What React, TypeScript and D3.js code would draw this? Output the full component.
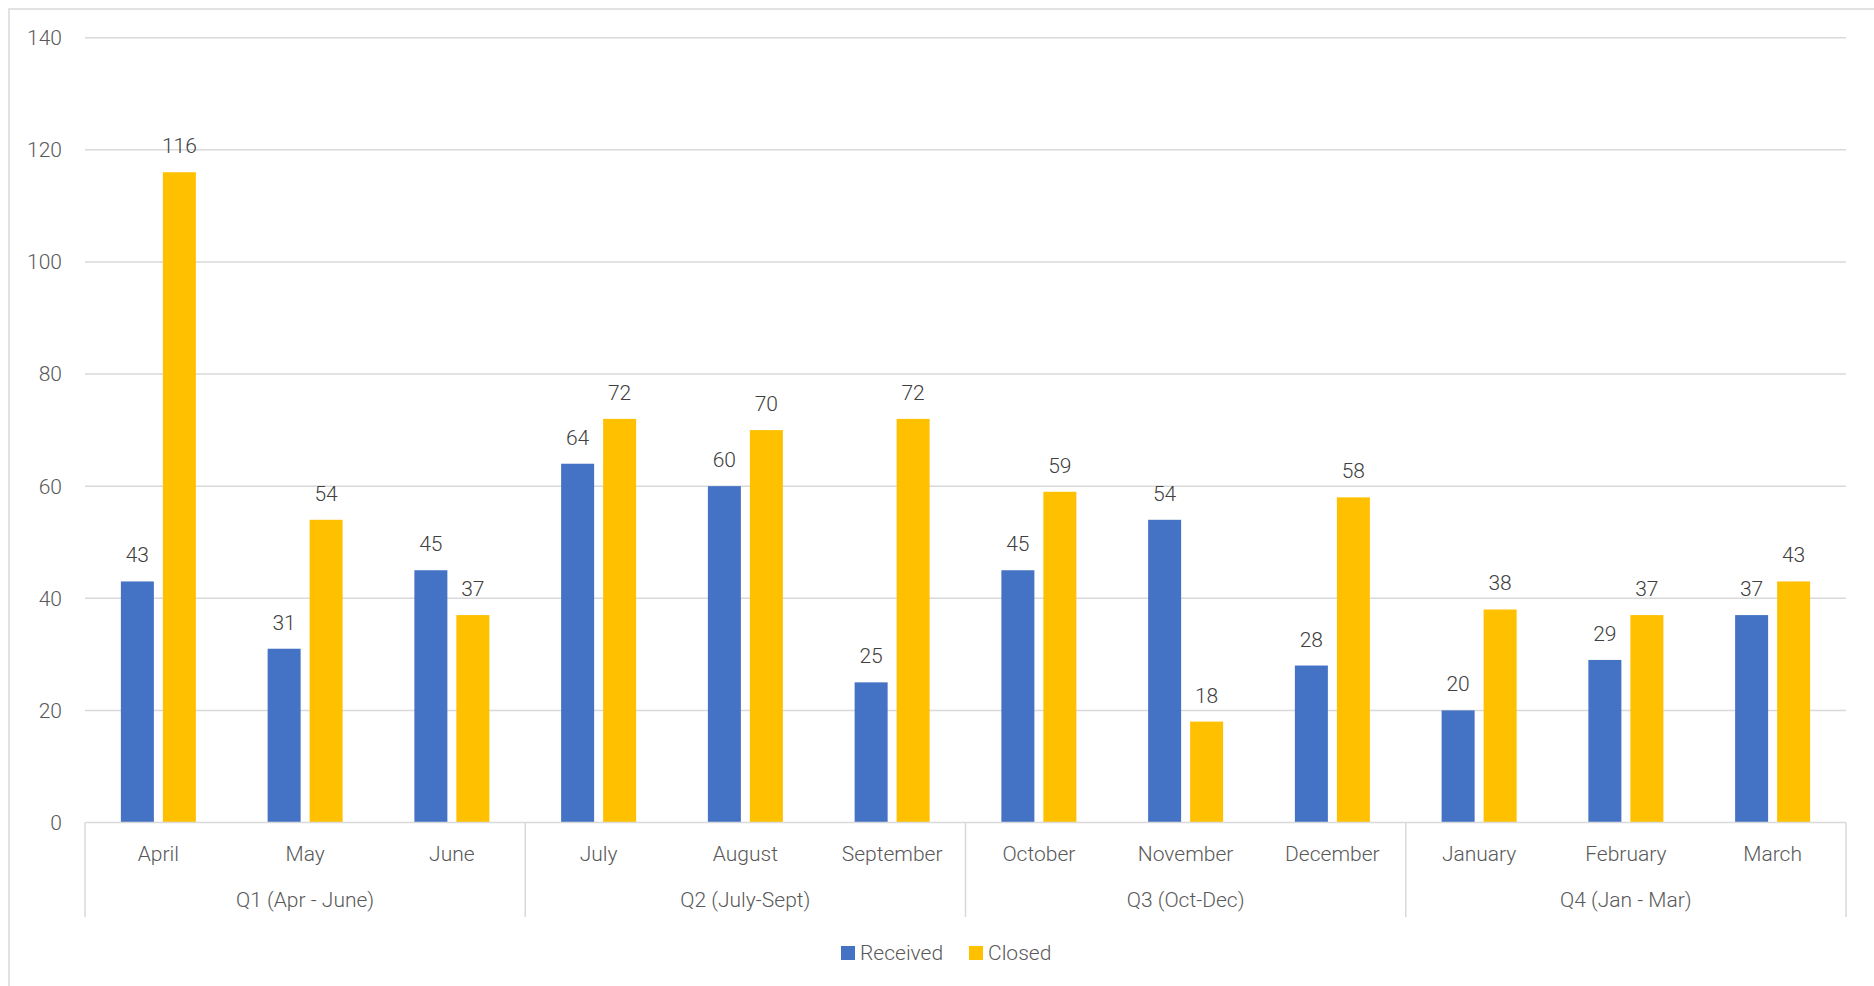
import React from "react";
import * as d3 from "d3";

const months = ["April", "May", "June", "July", "August", "September", "October", "November", "December", "January", "February", "March"];
const quarters = ["Q1 (Apr - June)", "Q2 (July-Sept)", "Q3 (Oct-Dec)", "Q4 (Jan - Mar)"];
const received = [43, 31, 45, 64, 60, 25, 45, 54, 28, 20, 29, 37];
const closed = [116, 54, 37, 72, 70, 72, 59, 18, 58, 38, 37, 43];
const yTicks = [0, 20, 40, 60, 80, 100, 120, 140];
const seriesNames = ["Received", "Closed"];
const seriesColors = ["#4472C4", "#FFC000"];

const W = 1874;
const H = 986;
const left = 85;
const right = 1846;
const top = 37.7;
const bottom = 822.5;
const FONT = "Roboto, 'Liberation Sans', Arial, sans-serif";
const TEXT = "#595959";
const GRID = "#d9d9d9";
const FW = 300;

export default function App() {
  const x = d3.scaleBand<string>().domain(months).range([left, right]).paddingInner(0).paddingOuter(0);
  const y = d3.scaleLinear().domain([0, 140]).range([bottom, top]);
  const bw = x.bandwidth();
  const barW = 33;
  const gap = 9;
  const series = [received, closed];
  const perQ = 3;

  return (
    <svg width={W} height={H} style={{ position: "fixed", left: 0, top: 0, background: "#fff" }}>
      <rect x={9} y={9} width={W + 10} height={H + 10} fill="#fff" stroke={GRID} strokeWidth={1.5} />
      {yTicks.map((t) => (
        <g key={t}>
          {t !== 0 && <line x1={left} x2={right} y1={y(t)} y2={y(t)} stroke={GRID} strokeWidth={1.5} />}
          <text x={62} y={y(t)} dy="0.35em" textAnchor="end" fontFamily={FONT} fontWeight={FW} fontSize={21} fill={TEXT}>
            {t}
          </text>
        </g>
      ))}
      {series.map((vals, si) =>
        vals.map((v, i) => {
          const cx = (x(months[i]) as number) + bw / 2;
          const bx = si === 0 ? cx - gap / 2 - barW : cx + gap / 2;
          return (
            <g key={`${si}-${i}`}>
              <rect x={bx} y={y(v)} width={barW} height={y(0) - y(v)} fill={seriesColors[si]} />
              <text x={bx + barW / 2} y={y(v) - 27} dy="0.38em" textAnchor="middle" fontFamily={FONT} fontWeight={FW} fontSize={21} fill={"#404040"}>
                {v}
              </text>
            </g>
          );
        })
      )}
      <line x1={left} x2={right} y1={y(0)} y2={y(0)} stroke={GRID} strokeWidth={1.5} />
      {d3.range(quarters.length + 1).map((q) => {
        const xi = left + q * perQ * bw;
        return <line key={q} x1={xi} x2={xi} y1={y(0)} y2={917} stroke={GRID} strokeWidth={1.5} />;
      })}
      {months.map((m) => (
        <text key={m} x={(x(m) as number) + bw / 2} y={853} dy="0.38em" textAnchor="middle" fontFamily={FONT} fontWeight={FW} fontSize={21} fill={TEXT}>
          {m}
        </text>
      ))}
      {quarters.map((q, qi) => (
        <text key={q} x={left + (qi * perQ + perQ / 2) * bw} y={899} dy="0.38em" textAnchor="middle" fontFamily={FONT} fontWeight={FW} fontSize={21} fill={TEXT}>
          {q}
        </text>
      ))}
      <g>
        <rect x={841} y={946} width={14} height={14} fill={seriesColors[0]} />
        <text x={860} y={952} dy="0.38em" fontFamily={FONT} fontWeight={FW} fontSize={21} fill={TEXT}>
          {seriesNames[0]}
        </text>
        <rect x={969} y={946} width={14} height={14} fill={seriesColors[1]} />
        <text x={988} y={952} dy="0.38em" fontFamily={FONT} fontWeight={FW} fontSize={21} fill={TEXT}>
          {seriesNames[1]}
        </text>
      </g>
    </svg>
  );
}
